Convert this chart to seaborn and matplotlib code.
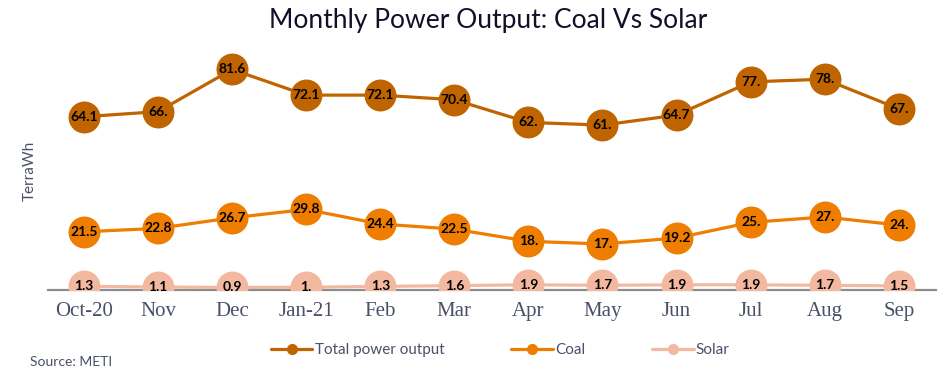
import matplotlib
matplotlib.use("Agg")
import matplotlib.pyplot as plt
import seaborn as sns
import pandas as pd

months = ["Oct-20", "Nov", "Dec", "Jan-21", "Feb", "Mar", "Apr", "May", "Jun", "Jul", "Aug", "Sep"]
total_output = [64.1, 66.0, 81.6, 72.1, 72.1, 70.4, 62.0, 61.0, 64.7, 77.0, 78.0, 67.0]
coal = [21.5, 22.8, 26.7, 29.8, 24.4, 22.5, 18.0, 17.0, 19.2, 25.0, 27.0, 24.0]
solar = [1.3, 1.1, 0.9, 1.0, 1.3, 1.6, 1.9, 1.7, 1.9, 1.9, 1.7, 1.5]

series_names = ["Total power output", "Coal", "Solar"]
colors = {"Total power output": "#C06400", "Coal": "#EE7D00", "Solar": "#F2B9A0"}
text_col = "#4A5068"


def fmt(v):
    # the source shows whole numbers with a trailing dot ("66.")
    return f"{int(v)}." if float(v).is_integer() else f"{v:.1f}"


df = pd.concat([
    pd.DataFrame({"month": months, "pos": range(len(months)), "value": vals, "series": name})
    for name, vals in zip(series_names, [total_output, coal, solar])
], ignore_index=True)

sns.set_style("white")

fig = plt.figure(figsize=(9.53, 3.78), dpi=100)
ax = fig.add_axes([0.050, 0.233, 0.932, 0.629])

sns.lineplot(data=df, x="pos", y="value", hue="series", hue_order=series_names,
             palette=colors, marker="o", markersize=23, markeredgewidth=0,
             linewidth=2.3, ax=ax, legend=False, zorder=3)

for name in series_names:
    sub = df[df["series"] == name]
    for x, y in zip(sub["pos"], sub["value"]):
        ax.text(x, y, fmt(y), ha="center", va="center", fontsize=10,
                fontweight="bold", color="black", family="Lato", zorder=5)

ax.set_xlim(-0.49, 11.5)
ax.set_ylim(0, 88)
ax.set_xticks(range(len(months)))
ax.set_xticklabels(months, family="Liberation Serif", fontsize=15, color=text_col)
ax.tick_params(axis="x", length=0, pad=9)
ax.set_yticks([])
ax.set_xlabel("")
ax.set_ylabel("TerraWh", fontsize=11, color=text_col, family="Lato", labelpad=8)

for s in ["top", "right", "left"]:
    ax.spines[s].set_visible(False)
ax.spines["bottom"].set_color("#8C8C8C")
ax.spines["bottom"].set_linewidth(1.6)
ax.spines["bottom"].set_zorder(2)

handles = [plt.Line2D([], [], color=colors[n], marker="o", markersize=7, linewidth=2.3)
           for n in series_names]
leg = fig.legend(handles, series_names, loc="center", bbox_to_anchor=(0.525, 0.074),
                 ncol=3, frameon=False, handlelength=2.7, handletextpad=0.15,
                 columnspacing=4.4, prop={"family": "Lato", "size": 11})
for t in leg.get_texts():
    t.set_color(text_col)

fig.text(0.512, 0.945, "Monthly Power Output: Coal Vs Solar", ha="center", va="center",
         fontsize=19, color="#10102A", family="Lato")
fig.text(0.031, 0.042, "Source: METI", ha="left", va="center", fontsize=10,
         color=text_col, family="Lato")

fig.savefig("out.png", dpi=100)
